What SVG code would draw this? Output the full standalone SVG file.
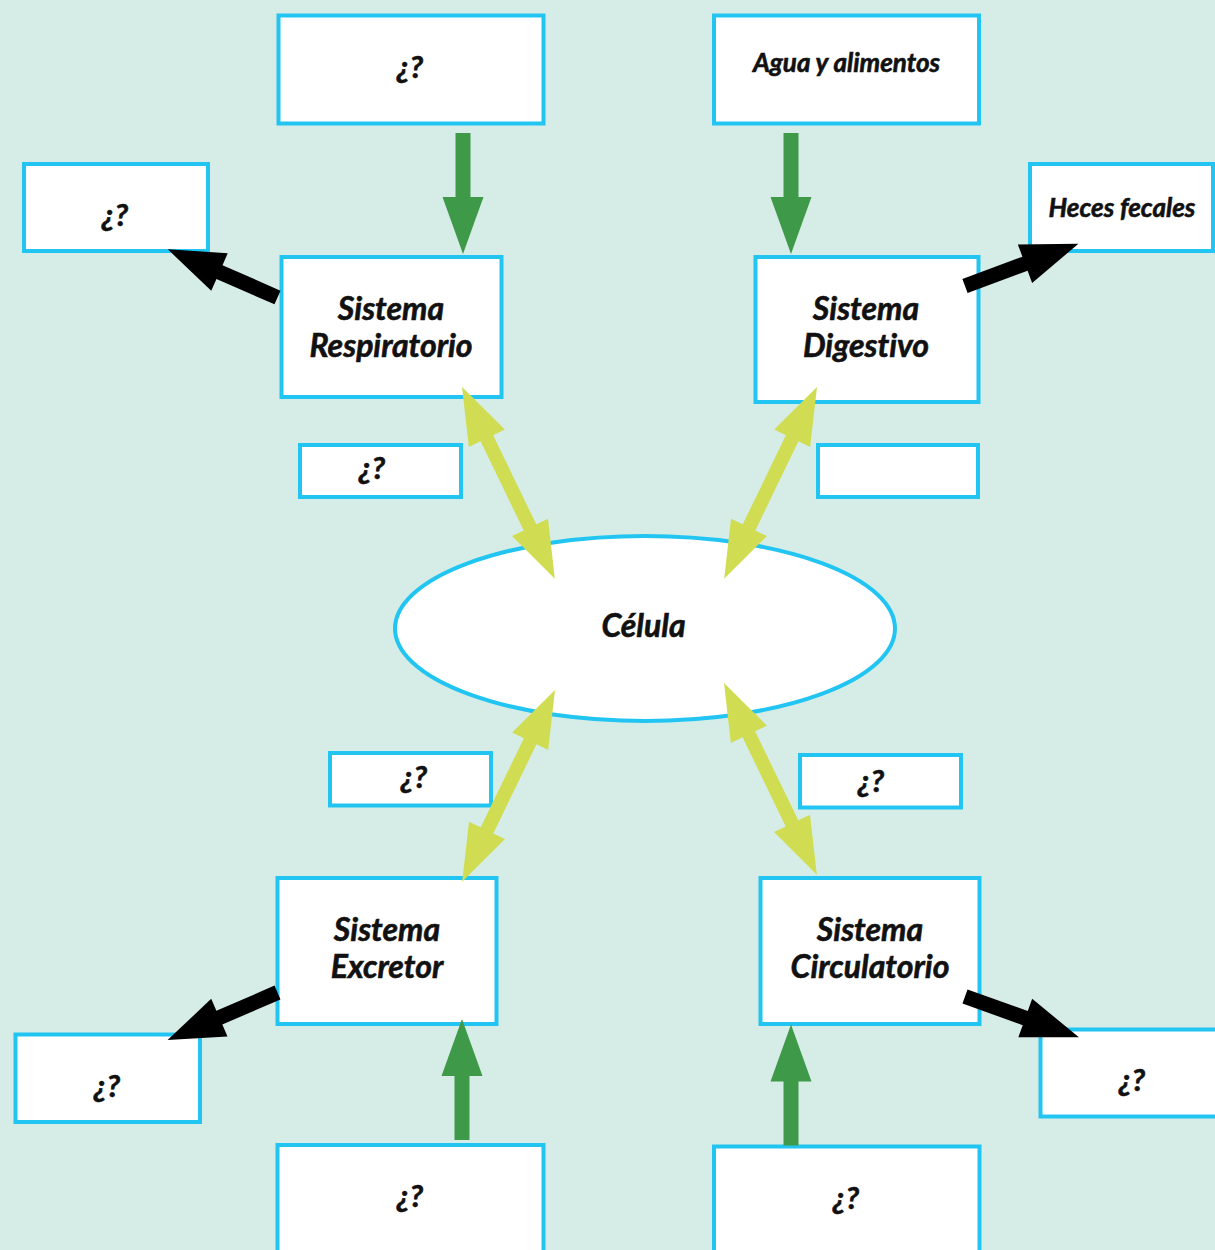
<svg xmlns="http://www.w3.org/2000/svg" xmlns:xlink="http://www.w3.org/1999/xlink" width="1215" height="1250" viewBox="0 0 1215 1250">
<style>
.box{fill:#ffffff;stroke:#22c5f2;stroke-width:4}
.t{font-family:Lato,"Open Sans","Liberation Sans",sans-serif;font-weight:bold;font-style:italic;fill:#111;stroke:#111;stroke-width:0.6;text-anchor:middle;font-variant-ligatures:none}
.big{font-size:32px}
.mid{font-size:26px}
.q{font-size:31px}
.green{fill:#3e9a48}
.black{fill:#000}
.yg{fill:#d0dd52}
</style>
<defs>
<polygon id="arr" points="0,-7.5 64,-7.5 64,-20.5 121,0 64,20.5 64,7.5 0,7.5"/>
<polygon id="dbl" points="0,0 57,-20 57,-7 156,-7 156,-20 213,0 156,20 156,7 57,7 57,20"/>
</defs>
<rect width="1215" height="1250" fill="#d6ede7"/>
<g id="nodes">
<g id="aire"><rect class="box" x="278.5" y="15.5" width="265" height="108"/><text class="t q" x="410" y="78">¿?</text></g>
<g id="resp-out"><rect class="box" x="24" y="164" width="184" height="87"/><text class="t q" x="115" y="226">¿?</text></g>
<g id="respiratorio"><rect class="box" x="281.5" y="257" width="220" height="140"/><text class="t big" x="391" y="320">Sistema</text><text class="t big" x="391" y="357">Respiratorio</text></g>
<g id="agua"><rect class="box" x="714" y="15.5" width="265" height="108"/><text class="t mid" x="846.5" y="72">Agua y alimentos</text></g>
<g id="heces"><rect class="box" x="1030" y="164" width="183" height="87"/><text class="t mid" x="1122" y="217">Heces fecales</text></g>
<g id="digestivo"><rect class="box" x="755.5" y="257" width="223" height="145"/><text class="t big" x="866" y="320">Sistema</text><text class="t big" x="866" y="357">Digestivo</text></g>
<g id="lbl-resp"><rect class="box" x="300" y="445" width="161" height="52"/><text class="t q" x="372" y="479">¿?</text></g>
<g id="lbl-dig"><rect class="box" x="818" y="445" width="160" height="52"/></g>
<g id="celula"><ellipse cx="645" cy="628.5" rx="250" ry="92.5" fill="#ffffff" stroke="#22c5f2" stroke-width="4"/><text class="t big" x="643.5" y="637">Célula</text></g>
<g id="lbl-exc"><rect class="box" x="330" y="753" width="161" height="52.5"/><text class="t q" x="414" y="788">¿?</text></g>
<g id="lbl-circ"><rect class="box" x="800" y="755" width="161" height="52.5"/><text class="t q" x="871" y="792">¿?</text></g>
<g id="excretor"><rect class="box" x="277.5" y="878" width="219" height="146"/><text class="t big" x="387" y="941">Sistema</text><text class="t big" x="387" y="978">Excretor</text></g>
<g id="exc-out"><rect class="box" x="15.5" y="1034.5" width="184.5" height="87.5"/><text class="t q" x="107" y="1097">¿?</text></g>
<g id="exc-in"><rect class="box" x="277.5" y="1145" width="266" height="120"/><text class="t q" x="410" y="1207">¿?</text></g>
<g id="circulatorio"><rect class="box" x="760.5" y="878" width="219" height="146"/><text class="t big" x="870" y="941">Sistema</text><text class="t big" x="870" y="978">Circulatorio</text></g>
<g id="circ-out"><rect class="box" x="1040.5" y="1029.5" width="190" height="87"/><text class="t q" x="1132" y="1091">¿?</text></g>
<g id="circ-in"><rect class="box" x="714" y="1146.5" width="265.5" height="120"/><text class="t q" x="846" y="1209">¿?</text></g>
</g>
<g id="connectors">
<use xlink:href="#arr" class="green" transform="translate(463,133) rotate(90)"/>
<use xlink:href="#arr" class="green" transform="translate(791,133) rotate(90)"/>
<use xlink:href="#arr" class="green" transform="translate(462,1140) rotate(-90)"/>
<use xlink:href="#arr" class="green" transform="translate(791,1145.5) rotate(-90)"/>
<use xlink:href="#arr" class="black" transform="translate(277.5,297.5) rotate(203.7) scale(0.99,1)"/>
<use xlink:href="#arr" class="black" transform="translate(965,286) rotate(-20.4)"/>
<use xlink:href="#arr" class="black" transform="translate(277.5,992.5) rotate(156.6) scale(0.99,1)"/>
<use xlink:href="#arr" class="black" transform="translate(965,996.5) rotate(19.7)"/>
<use xlink:href="#dbl" class="yg" transform="translate(462,387) rotate(64.16)"/>
<use xlink:href="#dbl" class="yg" transform="translate(817,387) rotate(115.84)"/>
<use xlink:href="#dbl" class="yg" transform="translate(555,690) rotate(115.84)"/>
<use xlink:href="#dbl" class="yg" transform="translate(724,683) rotate(64.16)"/>
</g>
</svg>
